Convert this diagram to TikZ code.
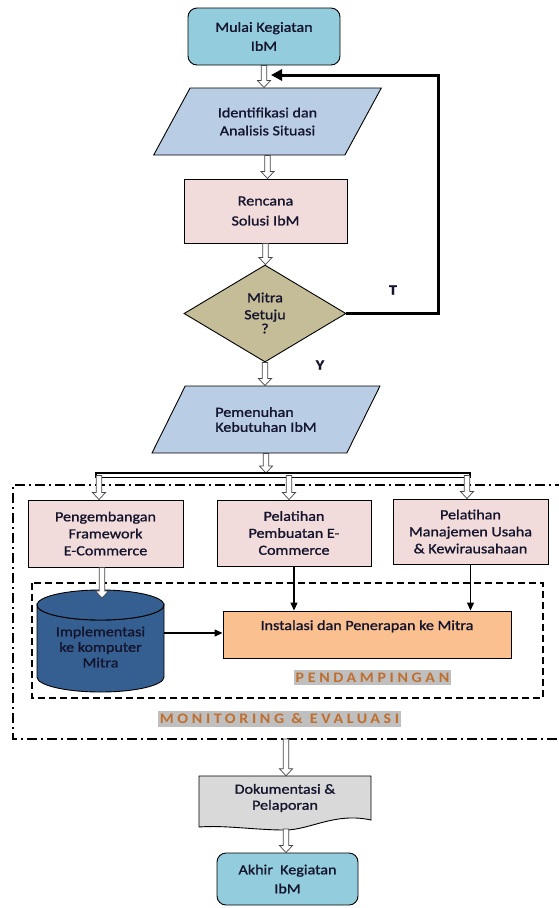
\documentclass[tikz,border=0pt]{standalone}
\usepackage{fontspec}
\setmainfont{Carlito}[FakeStretch=1.15,FakeBold=1.2]
\newfontfamily\lblfont{Carlito}[LetterSpace=25,FakeStretch=1.1]
\usetikzlibrary{shapes.geometric,arrows.meta,calc}
\definecolor{txt}{RGB}{20,20,45}
\definecolor{cyanfill}{RGB}{147,205,221}
\definecolor{bluefill}{RGB}{185,205,229}
\definecolor{pinkfill}{RGB}{242,220,219}
\definecolor{khaki}{RGB}{196,189,151}
\definecolor{cylblue}{RGB}{53,95,145}
\definecolor{orangefill}{RGB}{250,192,144}
\definecolor{docgray}{RGB}{217,217,217}
\definecolor{lbltxt}{RGB}{192,110,45}
\definecolor{lblbg}{RGB}{191,191,191}
\newcommand\hollowarr[2]{%
  \path[harrow] let \p1=#1, \p2=#2 in
    (\x1-2.8pt,\y1) -- (\x1-2.8pt,\y2+7pt) -- (\x1-6.5pt,\y2+7pt) -- (\x1,\y2)
    -- (\x1+6.5pt,\y2+7pt) -- (\x1+2.8pt,\y2+7pt) -- (\x1+2.8pt,\y1) -- cycle;}
\tikzset{
  every node/.style={font=\fontsize{14}{17}\selectfont, text=txt, align=center, inner sep=0pt},
  term/.style={draw=black, line width=0.9pt, rounded corners=9pt, fill=cyanfill},
  para/.style={draw=black, line width=0.9pt, trapezium, trapezium left angle=50,
    trapezium right angle=130, trapezium stretches=true, fill=bluefill,
    minimum width=228pt, minimum height=67pt},
  procbox/.style={draw=black, line width=0.9pt, fill=pinkfill},
  decision/.style={draw=black, line width=0.9pt, diamond, fill=khaki, aspect=1.67,
    minimum width=162pt, minimum height=97pt},
  harrow/.style={fill=white, draw=gray!55!black, line width=0.7pt},
  flow/.style={line width=1.2pt, -{Triangle[length=8pt,width=7pt]}},
  loopline/.style={line width=3pt, -{Triangle[length=11pt,width=11pt]}},
  grouplabel/.style={fill=lblbg, text=lbltxt, font=\lblfont\bfseries\fontsize{14.5}{16}\selectfont,
    inner xsep=2pt, inner ysep=3pt},
  yn/.style={font=\bfseries\fontsize{14}{16}\selectfont}
}
\begin{document}
\begin{tikzpicture}[x=1pt,y=-1pt]
\useasboundingbox (0,0) rectangle (559,908);
% frames
\draw[line width=1.2pt, dash pattern=on 10pt off 4pt on 2pt off 4pt]
  (565,485) -- (13,485) -- (13,739) -- (565,739);
\draw[line width=1.3pt, dash pattern=on 7pt off 4pt] (32,583) rectangle (543,698);
% main column
\node[term, minimum width=152pt, minimum height=57pt, font=\fontsize{14}{19}\selectfont] (start) at (264,36.5) {Mulai Kegiatan\\IbM};
\node[para, font=\fontsize{14}{18}\selectfont] (ident) at (267.5,121.5) {Identifikasi dan\\Analisis Situasi};
\node[procbox, minimum width=163pt, minimum height=64pt, font=\fontsize{14}{20}\selectfont] (renc) at (265.5,211) {Rencana\\Solusi IbM};
\node[decision] (dia) at (265,313.5) {};
\node[font=\fontsize{14}{17}\selectfont] (diatext) at (265,313) {Mitra\\Setuju\\[-3pt]?};
\node[para, align=left, font=\fontsize{14}{15}\selectfont] (pem) at (266,419.5) {Pemenuhan\\Kebutuhan IbM};
% three boxes
\node[procbox, minimum width=155pt, minimum height=67pt] (A) at (105.5,533.5) {Pengembangan\\Framework\\E-Commerce};
\node[procbox, minimum width=154pt, minimum height=66pt] (B) at (294,533) {Pelatihan\\Pembuatan E-\\Commerce};
\node[procbox, minimum width=155pt, minimum height=65pt] (C) at (470.5,531.5) {Pelatihan\\Manajemen Usaha\\\& Kewirausahaan};
% cylinder
\filldraw[fill=cylblue, draw=black, line width=0.9pt]
  (37,605) -- (37,677) arc[start angle=180, end angle=0, x radius=63.5, y radius=15]
  -- (164,605) arc[start angle=0, end angle=180, x radius=63.5, y radius=15] -- cycle;
\draw[fill=cylblue, line width=0.9pt] (100.5,605) ellipse[x radius=63.5, y radius=15];
\node[minimum width=127pt, font=\fontsize{14}{15.5}\selectfont] (cyl) at (100.5,647) {Implementasi\\ke komputer\\Mitra};
% install box
\node[draw=black, line width=0.9pt, fill=orangefill, minimum width=288pt, minimum height=47pt,
  text height=10pt, text depth=19pt] (inst) at (367,634.5) {Instalasi dan Penerapan ke Mitra};
% labels
\node[grouplabel] (pend) at (372.5,677.5) {PENDAMPINGAN};
\node[grouplabel] (monev) at (279.5,719) {MONITORING \& EVALUASI};
% documentation
\filldraw[fill=docgray, draw=black, line width=0.9pt]
  (199,776) -- (371,776) -- (371,820) .. controls (335,812) and (310,830) .. (285,830)
  .. controls (255,830) and (225,825) .. (199,827) -- cycle;
\node[minimum width=172pt, minimum height=44pt, font=\fontsize{14}{16}\selectfont] (doc) at (285,798) {Dokumentasi \&\\Pelaporan};
\node[term, minimum width=141pt, minimum height=52pt, font=\fontsize{14}{19}\selectfont] (end) at (287.5,879) {Akhir~ Kegiatan\\IbM};
% coordinates
\coordinate (loopend) at (271,75);
\coordinate (barT) at (266,473);
\coordinate (bA) at (99,475.5);
\coordinate (bB) at (289,475.5);
\coordinate (bC) at (467,475.5);
\coordinate (cyltop) at (102,598);
\coordinate (mebot) at (286,739);
\coordinate (docbot) at (286,829);
% hollow arrows
\hollowarr{(start.south)}{(ident.north)}
\hollowarr{(ident.south)}{(renc.north)}
\hollowarr{(renc.south)}{(dia.north)}
\hollowarr{(dia.south)}{(pem.north)}
\hollowarr{(pem.south)}{(barT)}
\draw[line width=1.2pt, fill=white] (96,473) rectangle (470,477.5);
\hollowarr{(bA)}{(bA |- A.north)}
\hollowarr{(bB)}{(bB |- B.north)}
\hollowarr{(bC)}{(bC |- C.north)}
\hollowarr{(A.south -| cyltop)}{(cyltop)}
\hollowarr{(mebot)}{(doc.north)}
\hollowarr{(docbot)}{(end.north)}
% loop back
\draw[loopline] (dia.east) -| (438,75) -- (loopend);
\node[yn] (tlabel) at (393,290) {T};
\node[yn] (ylabel) at (320,365) {Y};
% thin arrows
\draw[flow] (B.south) -- (B.south |- inst.north);
\draw[flow] (C.south) -- (C.south |- inst.north);
\draw[flow] ([yshift=14pt]cyl.east) coordinate (c1) -- (c1 -| inst.west);
\end{tikzpicture}
\end{document}
